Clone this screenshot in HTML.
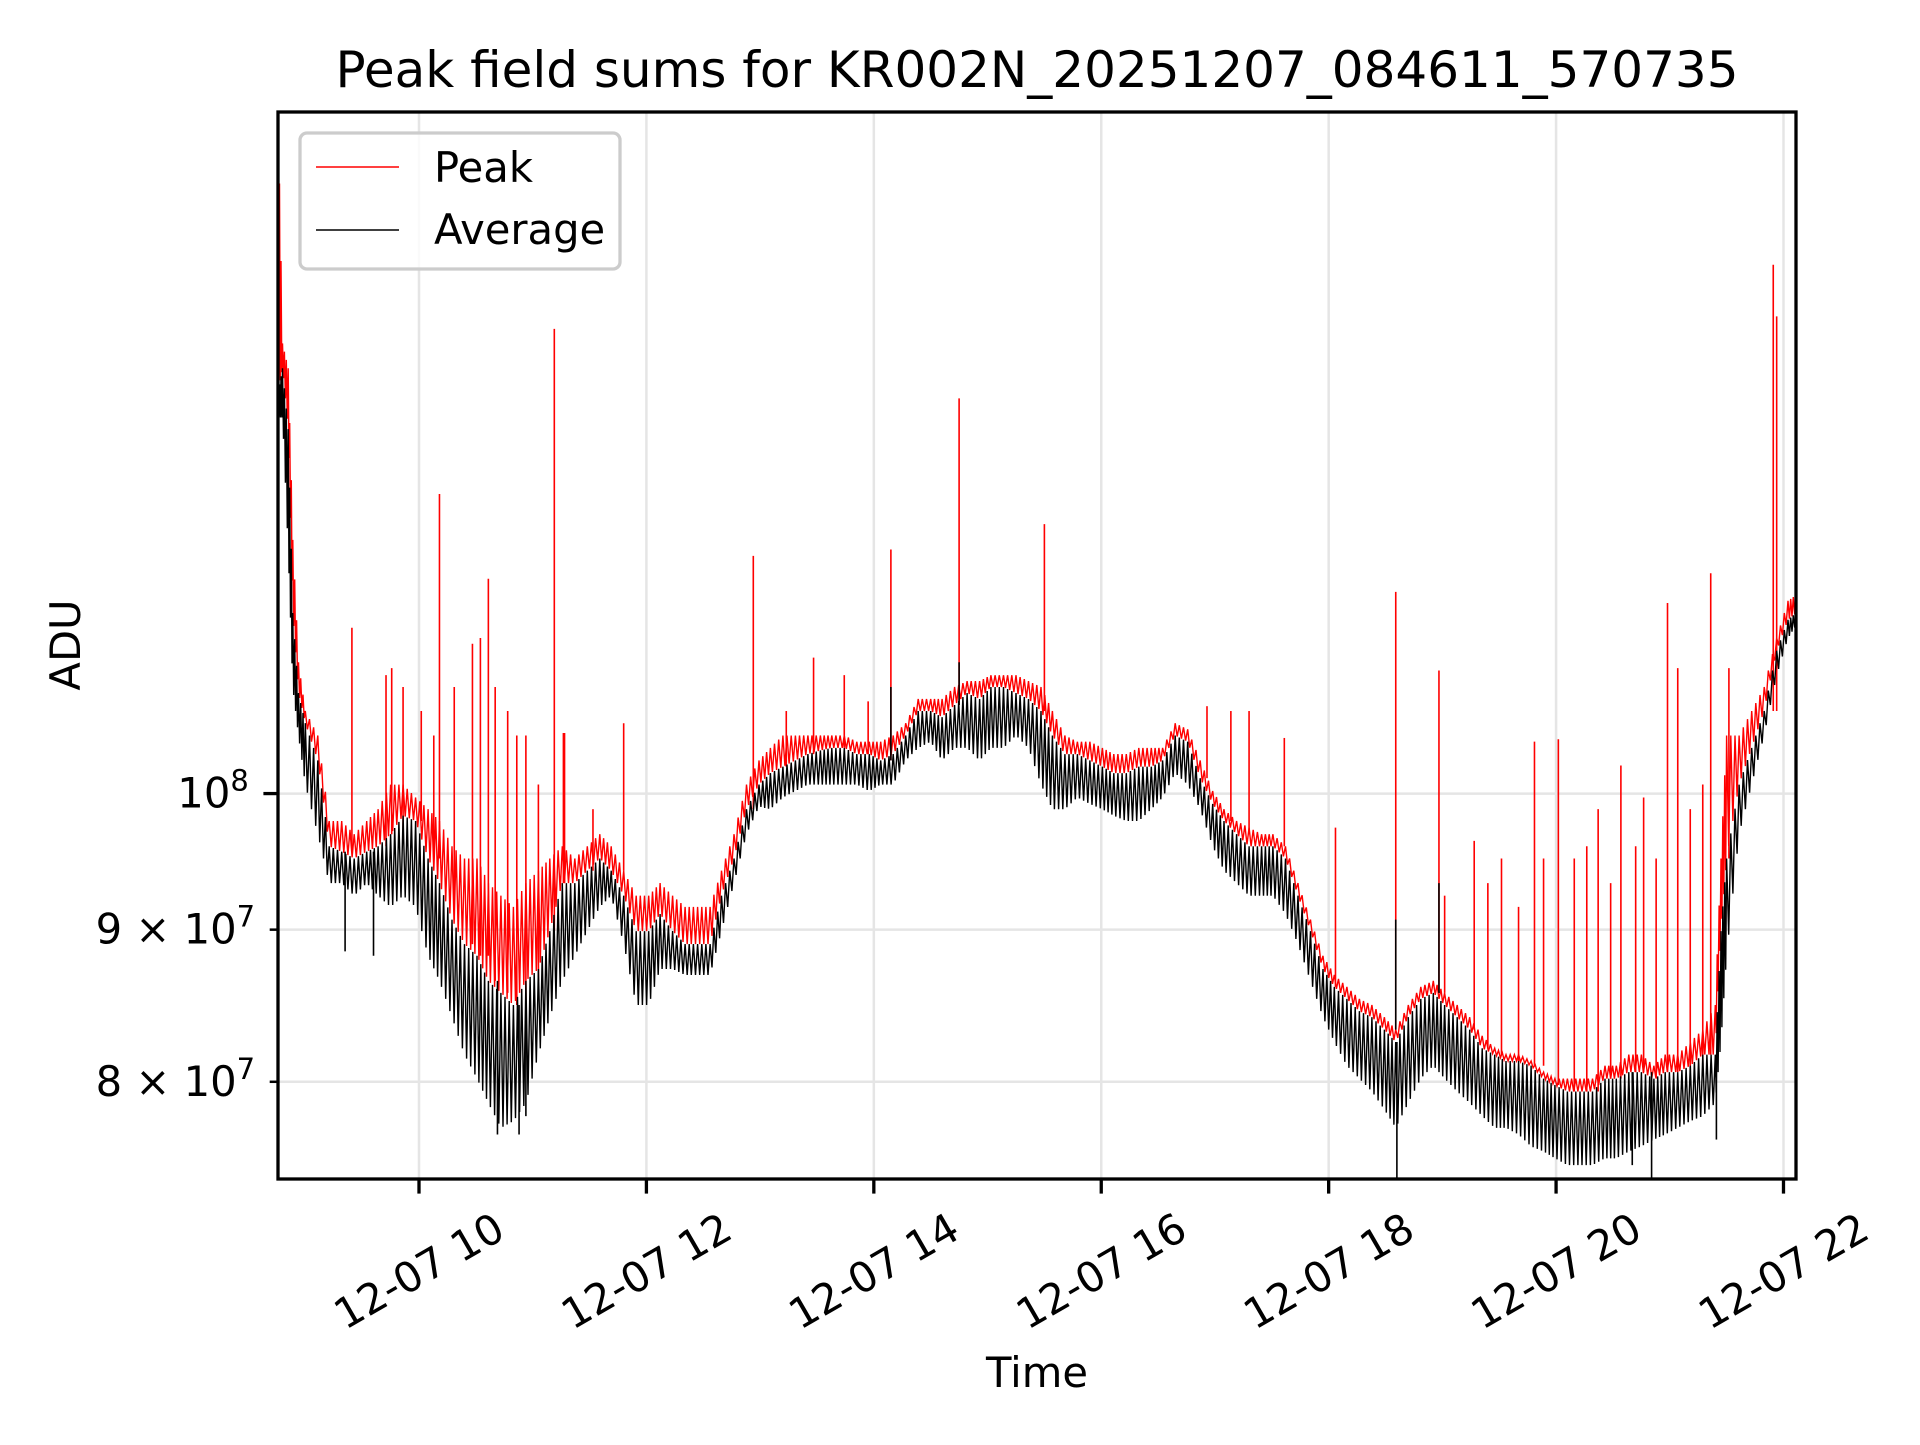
<!DOCTYPE html>
<html><head><meta charset="utf-8">
<style>
html,body{margin:0;padding:0;background:#fff;}
svg text{font-family:"DejaVu Sans","Liberation Sans",sans-serif;fill:#000;}
</style></head>
<body>
<svg id="chart" width="1920" height="1440" viewBox="0 0 1920 1440" xmlns="http://www.w3.org/2000/svg">
<rect width="1920" height="1440" fill="#fff"/>
<text x="1037" y="87" font-size="50" text-anchor="middle">Peak field sums for KR002N_20251207_084611_570735</text>
<g id="grid"></g>
<defs><clipPath id="plotclip"><rect x="278" y="112" width="1518" height="1067"/></clipPath></defs>
<g id="series" clip-path="url(#plotclip)"></g>
<rect x="278" y="112" width="1518" height="1067" fill="none" stroke="#000" stroke-width="3.3"/>
<g id="ticks"></g>
<text x="0" y="0" font-size="41.7" text-anchor="middle" transform="translate(80,645) rotate(-90)">ADU</text>
<text x="1037" y="1387" font-size="41.7" text-anchor="middle">Time</text>
<g>
<rect x="300" y="133" width="320" height="136" rx="7" fill="#fff" fill-opacity="0.8" stroke="#ccc" stroke-width="3.3"/>
<line x1="316" y1="167" x2="399" y2="167" stroke="#f00" stroke-width="1.6"/>
<text x="434" y="182" font-size="41.7">Peak</text>
<line x1="316" y1="230" x2="399" y2="230" stroke="#000" stroke-width="1.6"/>
<text x="434" y="244" font-size="41.7">Average</text>
</g>
</svg>
<script>
// time in decimal hours on 2025-12-07; values in millions of ADU
const times = [8.76,8.80,8.85,8.89,8.94,9.00,9.11,9.21,9.32,9.43,9.54,9.64,9.75,9.86,9.97,10.08,10.18,10.29,10.40,10.51,10.61,10.72,10.83,10.94,11.05,11.15,11.26,11.37,11.48,11.59,11.69,11.80,11.91,12.02,12.12,12.23,12.34,12.45,12.56,12.66,12.77,12.88,12.99,13.09,13.20,13.31,13.42,13.53,13.63,13.74,13.85,13.96,14.06,14.17,14.28,14.39,14.50,14.60,14.71,14.82,14.93,15.03,15.14,15.25,15.36,15.47,15.57,15.68,15.79,15.90,16.01,16.11,16.22,16.33,16.44,16.54,16.65,16.76,16.87,16.98,17.08,17.19,17.30,17.41,17.51,17.62,17.73,17.84,17.95,18.05,18.16,18.27,18.38,18.49,18.59,18.70,18.81,18.92,19.02,19.13,19.24,19.35,19.46,19.56,19.67,19.78,19.89,19.99,20.10,20.21,20.32,20.43,20.53,20.64,20.75,20.86,20.96,21.07,21.18,21.29,21.40,21.45,21.50,21.61,21.72,21.83,21.94,22.04,22.11];
const peakValues = [169.7,141.7,139.0,121.7,110.7,106.6,104.6,97.9,97.9,96.9,97.9,98.8,100.7,100.7,99.7,98.8,97.9,96.0,95.1,95.1,93.3,92.4,91.6,93.3,94.2,95.1,96.0,95.1,96.0,96.9,96.0,94.2,92.4,92.4,93.3,92.4,91.6,91.6,91.6,94.2,96.9,100.7,102.6,103.6,104.6,104.6,104.6,104.6,104.6,104.6,104.1,104.1,104.1,104.6,105.6,107.6,107.6,107.6,108.6,109.1,109.1,109.6,109.6,109.6,109.1,108.6,106.6,104.6,104.1,104.1,103.6,103.1,103.1,103.6,103.6,103.6,105.6,105.1,102.6,100.2,98.8,97.9,97.4,96.9,96.9,96.0,93.3,90.7,88.2,86.9,86.1,85.3,84.9,84.1,83.3,84.9,86.1,86.5,85.7,84.9,84.1,82.9,82.1,81.7,81.7,81.3,80.6,80.2,80.2,80.2,80.2,81.0,81.0,81.7,81.7,81.0,81.7,81.7,82.5,83.3,84.9,95.1,104.6,104.6,106.6,108.6,112.8,116.1,116.6];
const averageValues = [136.4,139.0,132.6,115.0,108.1,105.6,102.6,96.0,95.6,95.1,95.6,96.0,96.9,98.3,97.9,95.1,93.3,90.7,89.0,88.2,86.5,85.7,84.9,86.5,87.3,89.9,93.3,93.3,94.2,95.1,94.2,92.4,89.9,89.9,91.1,89.9,89.0,89.0,89.0,92.4,95.1,98.8,100.7,101.6,102.1,102.6,103.1,103.4,103.6,103.6,103.1,103.1,102.6,103.1,104.6,106.6,106.6,106.1,107.1,108.1,107.6,108.6,108.6,108.1,107.6,106.6,104.6,103.1,103.1,102.6,102.1,101.6,101.6,102.1,102.1,102.6,104.6,104.1,101.2,99.2,97.9,96.9,96.0,96.0,96.0,95.1,92.4,89.9,87.3,86.1,85.3,84.5,84.1,83.3,82.5,84.1,85.3,85.7,84.9,84.1,83.3,82.1,81.7,81.3,81.3,81.0,80.2,79.8,79.4,79.4,79.4,80.2,80.2,80.6,80.6,80.2,80.6,80.6,81.0,81.7,81.7,89.9,95.1,100.7,103.6,106.6,111.7,114.4,115.0];
const averageLows = [133.8,133.8,120.6,108.6,104.6,100.7,96.9,93.3,93.3,92.4,93.3,92.4,91.6,92.4,91.6,88.2,86.5,84.1,81.7,80.2,78.7,77.2,77.6,78.7,81.7,84.1,86.5,88.2,89.9,91.6,92.4,89.0,84.9,84.9,87.3,87.3,86.9,86.9,86.9,89.9,93.3,96.9,99.0,98.8,99.7,100.2,100.7,100.7,100.7,100.7,100.7,100.2,100.7,100.7,102.6,103.6,104.1,102.6,103.6,103.6,102.6,103.6,103.6,104.6,103.6,100.7,98.8,98.8,99.7,99.2,98.8,98.3,97.9,97.9,98.8,99.7,101.6,100.7,98.8,96.0,94.2,93.3,92.4,92.4,92.4,91.1,89.0,86.5,84.1,82.5,81.0,80.2,79.4,78.3,77.2,78.7,80.2,81.0,80.2,79.4,78.7,77.9,77.2,77.2,76.8,76.1,75.8,75.4,75.0,75.0,75.0,75.4,75.4,75.8,76.1,76.5,76.8,77.2,77.6,77.9,78.7,82.5,88.2,96.9,100.7,104.6,109.6,112.8,113.9];
const peakSpikeTimes = [9.41,9.71,9.76,9.86,10.02,10.13,10.18,10.31,10.47,10.54,10.61,10.67,10.78,10.86,10.94,11.05,11.19,11.27,11.28,11.53,11.80,12.94,13.23,13.47,13.74,13.95,14.15,14.75,15.50,16.93,17.14,17.30,17.61,18.06,18.59,18.97,19.02,19.28,19.40,19.52,19.67,19.81,19.89,20.02,20.16,20.27,20.37,20.48,20.57,20.70,20.77,20.88,20.98,21.07,21.18,21.29,21.36,21.52,21.91,21.94];
const peakSpikeValues = [113.7,109.6,110.2,108.6,106.6,104.6,126.1,108.6,112.3,112.8,118.1,108.6,106.6,104.6,104.6,100.7,143.3,104.8,104.8,98.8,105.6,120.2,106.6,111.1,109.6,107.4,120.8,135.8,123.2,107.0,106.6,106.6,104.4,97.4,116.9,110.0,92.4,96.4,93.3,95.1,91.6,104.1,95.1,104.3,95.1,96.0,98.8,93.3,102.2,96.0,99.7,95.1,115.9,110.2,98.8,100.7,118.6,110.2,150.6,144.7];
const avgSpikeTimes = [9.35,9.60,10.69,10.88,10.94,14.15,14.75,18.59,18.60,18.97,20.67,20.84,21.41];
const avgSpikeValues = [88.5,88.2,76.8,76.8,77.9,108.6,110.7,90.7,74.0,93.3,75.0,74.0,76.5];
const xTickHours = [10,12,14,16,18,20,22];
const xTickLabels = ["12-07 10","12-07 12","12-07 14","12-07 16","12-07 18","12-07 20","12-07 22"];
const yTickValues = [80,90,100];
const yTickMant = ["8","9",""];
const yTickExp = ["7","7","8"];

const X0=278,X1=1796,Y0=112,Y1=1179, TMIN=8.76,TMAX=22.11, VMIN=74.2,VMAX=169.5;
const NS="http://www.w3.org/2000/svg";
function xs(t){return X0+(t-TMIN)/(TMAX-TMIN)*(X1-X0);}
function ys(v){return Y1-Math.log(v/VMIN)/Math.log(VMAX/VMIN)*(Y1-Y0);}
function mk(tag,attrs,parent){const e=document.createElementNS(NS,tag);for(const k in attrs)e.setAttribute(k,attrs[k]);parent.appendChild(e);return e;}

const grid=document.getElementById('grid'), ticks=document.getElementById('ticks'), series=document.getElementById('series');

xTickHours.forEach((h,i)=>{
  const x=xs(h);
  const g=mk('line',{x1:x,x2:x,y1:Y0,y2:Y1,stroke:'#e5e5e5','stroke-width':2.5},grid);
  
  
  const t=mk('line',{x1:x,x2:x,y1:Y1,y2:Y1+14.6,stroke:'#000','stroke-width':3.3},ticks);
  
  
  const lb=mk('text',{x:0,y:0,'font-size':41.7,'text-anchor':'middle','dominant-baseline':'central',transform:`translate(${x},1271) rotate(-30)`},ticks);
  lb.textContent=xTickLabels[i];
  
  
});
yTickValues.forEach((v,i)=>{
  const y=ys(v);
  const g=mk('line',{x1:X0,x2:X1,y1:y,y2:y,stroke:'#e5e5e5','stroke-width':2.5},grid);
  
  
  const len=yTickMant[i]?8.3:14.6;
  const t=mk('line',{x1:X0-len,x2:X0,y1:y,y2:y,stroke:'#000','stroke-width':yTickMant[i]?2.5:3.3},ticks);
  
  
  const lb=mk('text',{x:X0-len-14.6,y:y+14,'font-size':41.7,'text-anchor':'end'},ticks);
  
  
  const base=document.createElementNS(NS,'tspan');
  base.textContent=yTickMant[i]?yTickMant[i]+' \u00d7 10':'10';
  lb.appendChild(base);
  const sup=document.createElementNS(NS,'tspan');
  sup.setAttribute('font-size','29');sup.setAttribute('dy','-17');
  sup.textContent=yTickExp[i];
  lb.appendChild(sup);
});

// dense oscillating trace between an upper and lower envelope
function trace(up,lo,sub){
  const pts=[];
  for(let i=0;i<times.length-1;i++){
    for(let k=0;k<sub;k++){
      const f=k/sub;
      const t=times[i]+(times[i+1]-times[i])*f;
      const a=up[i]+(up[i+1]-up[i])*f, b=lo[i]+(lo[i+1]-lo[i])*f;
      pts.push(xs(t).toFixed(1)+','+ys(k%2?b:a).toFixed(1));
    }
  }
  const n=times.length-1;
  pts.push(xs(times[n]).toFixed(1)+','+ys(up[n]).toFixed(1));
  return pts.join(' ');
}
const peakLine=mk('polyline',{points:trace(peakValues,averageValues,6),fill:'none',stroke:'#f00','stroke-width':1.4},series);


peakSpikeTimes.forEach((t,i)=>{
  const x=xs(t);
  let j=0;while(j<times.length-2&&times[j+1]<t)j++;
  const s=mk('line',{x1:x,x2:x,y1:ys(averageValues[j]),y2:ys(peakSpikeValues[i]),stroke:'#f00','stroke-width':1.6},series);
  
  
});
const avgLine=mk('polyline',{points:trace(averageValues,averageLows,6),fill:'none',stroke:'#000','stroke-width':1.4},series);


avgSpikeTimes.forEach((t,i)=>{
  const x=xs(t);
  let j=0;while(j<times.length-2&&times[j+1]<t)j++;
  const s=mk('line',{x1:x,x2:x,y1:ys(averageValues[j]),y2:ys(avgSpikeValues[i]),stroke:'#000','stroke-width':1.6},series);
  
  
});
</script>
</body></html>
